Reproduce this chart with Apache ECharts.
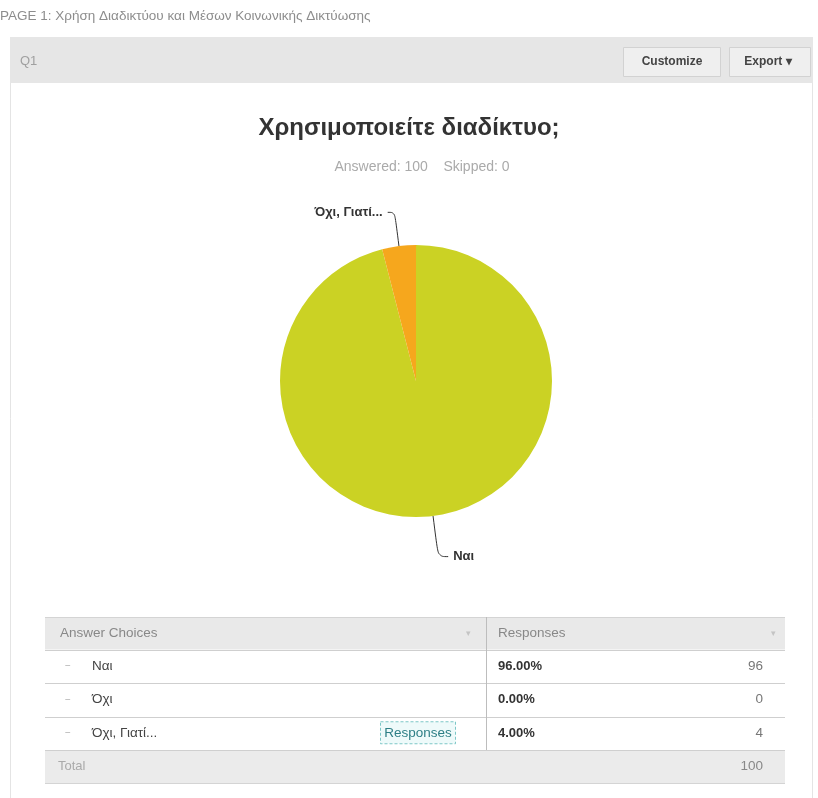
<!DOCTYPE html>
<html>
<head>
<meta charset="utf-8">
<script src="https://cdn.jsdelivr.net/npm/echarts@6/dist/echarts.min.js"></script>
<style>
  html, body { margin: 0; padding: 0; background: #ffffff; }
  #page { width: 818px; height: 798px; }
</style>
</head>
<body>
<div id="page"></div>
<script>
// Survey question Q1 results
const pageHeading = 'PAGE 1: Χρήση Διαδικτύου και Μέσων Κοινωνικής Δικτύωσης';
const questionId = 'Q1';
const questionTitle = 'Χρησιμοποιείτε διαδίκτυο;';
const answered = 100;
const skipped = 0;
const choices = ['Ναι', 'Όχι', 'Όχι, Γιατί...'];
const counts = [96, 0, 4];
const sliceColors = ['#cbd224', '#f6a71d', '#f6a71d'];
const openEndedRow = 2; // row that carries a "Responses" link

const FONT = '"Liberation Sans", Arial, sans-serif';
const chart = echarts.init(document.getElementById('page'), null, { renderer: 'canvas' });

const total = counts.reduce((a, b) => a + b, 0);
const pct = v => (total ? (v / total * 100) : 0).toFixed(2) + '%';

// ---- page chrome ----
const g = [];
const txt = (text, x, y, opt = {}) => g.push({
  type: 'text', x, y, silent: true,
  style: Object.assign({
    text, fill: '#555', font: '13.5px ' + FONT,
    align: 'left', verticalAlign: 'middle'
  }, opt)
});
const rect = (x, y, w, h, style) => g.push({
  type: 'rect', silent: true, shape: { x, y, width: w, height: h }, style
});
const hline = (x1, x2, y, color) => g.push({
  type: 'line', silent: true, shape: { x1, y1: y, x2, y2: y },
  style: { stroke: color, lineWidth: 1 }
});
const vline = (x, y1, y2, color) => g.push({
  type: 'line', silent: true, shape: { x1: x, y1, x2: x, y2 },
  style: { stroke: color, lineWidth: 1 }
});

txt(pageHeading, 0, 16, { fill: '#8d8d8d', font: '13.5px ' + FONT });

// panel and its header band
rect(10.5, 37.5, 802, 770, { fill: '#ffffff', stroke: '#e4e4e4', lineWidth: 1 });
rect(10, 37, 803, 46, { fill: '#e6e6e6' });
txt(questionId, 20, 61, { fill: '#a0a0a0', font: '13px ' + FONT });

// buttons
rect(623.5, 47.5, 97, 29, { fill: '#efefef', stroke: '#d2d2d2', lineWidth: 1 });
txt('Customize', 672, 62, { fill: '#444', font: 'bold 12px ' + FONT, align: 'center' });
rect(729.5, 47.5, 81, 29, { fill: '#efefef', stroke: '#d2d2d2', lineWidth: 1 });
txt('Export ▾', 768, 62, { fill: '#444', font: 'bold 12px ' + FONT, align: 'center' });

// ---- results table ----
const tX0 = 45, tX1 = 785, colX = 486;
const headTop = 617, headBot = 649.5;
const rowH = 33.5;
rect(tX0, headTop, tX1 - tX0, headBot - headTop, { fill: '#e9e9e9' });
hline(tX0, tX1, headTop + 0.5, '#d4d4d4');
txt('Answer Choices', 60, 633, { fill: '#888' });
txt('Responses', 498, 633, { fill: '#888' });
txt('▾', 468, 634, { fill: '#c4c4c4', font: '9px ' + FONT, align: 'center' });
txt('▾', 773, 634, { fill: '#c4c4c4', font: '9px ' + FONT, align: 'center' });

choices.forEach((name, i) => {
  const top = headBot + i * rowH;
  const cy = top + rowH / 2;
  hline(tX0, tX1, Math.round(top) + 0.5, '#cfcfcf');
  txt('−', 65, cy, { fill: '#b0b0b0', font: '10px ' + FONT });
  txt(name, 92, cy, { fill: '#444' });
  txt(pct(counts[i]), 498, cy, { fill: '#333', font: 'bold 13px ' + FONT });
  txt(String(counts[i]), 763, cy, { fill: '#777', align: 'right' });
  if (i === openEndedRow) {
    rect(380.5, cy - 11.5, 75, 22, {
      fill: '#eefafa', stroke: '#7cc7c7', lineWidth: 1, lineDash: [3, 2]
    });
    txt('Responses', 418, cy, { fill: '#2e7f86', font: '13.5px ' + FONT, align: 'center' });
  }
});
const totTop = headBot + choices.length * rowH;
const totBot = 783;
rect(tX0, totTop, tX1 - tX0, totBot - totTop, { fill: '#ebebeb' });
hline(tX0, tX1, Math.round(totTop) + 0.5, '#cfcfcf');
hline(tX0, tX1, totBot + 0.5, '#d4d4d4');
vline(colX + 0.5, headTop, totTop, '#bdbdbd');
txt('Total', 58, (totTop + totBot) / 2, { fill: '#aaa', font: '13px ' + FONT });
txt(String(total), 763, (totTop + totBot) / 2, { fill: '#888', align: 'right' });

// ---- pie ----
const pieData = choices.map((name, i) => {
  const item = { name, value: counts[i], itemStyle: { color: sliceColors[i] } };
  if (counts[i] === 0) {
    item.label = { show: false };
    item.labelLine = { show: false };
  }
  return item;
});
// the largest slice's leader reaches a little further down
pieData[0].labelLine = { length: 41, length2: 10 };

chart.setOption({
  animation: false,
  title: [
    {
      text: questionTitle, left: 'center', top: 111,
      textStyle: { fontFamily: FONT, fontSize: 24, fontWeight: 'bold', color: '#333' }
    },
    {
      text: 'Answered: ' + answered + '    Skipped: ' + skipped,
      left: 417, top: 155, textAlign: 'center',
      textStyle: { fontFamily: FONT, fontSize: 14, fontWeight: 'normal', color: '#aaa' }
    }
  ],
  graphic: g,
  series: [{
    type: 'pie',
    center: [416, 381],
    radius: 136,
    startAngle: 90,
    clockwise: true,
    silent: true,
    avoidLabelOverlap: false,
    label: {
      show: true, position: 'outside', formatter: '{b}',
      fontFamily: FONT, fontSize: 13, fontWeight: 'bold', color: '#333',
      distanceToLabelLine: 5
    },
    labelLine: {
      show: true, length: 34, length2: 7, smooth: 0.4,
      lineStyle: { color: '#333', width: 1 }
    },
    data: pieData
  }]
});
</script>
</body>
</html>
